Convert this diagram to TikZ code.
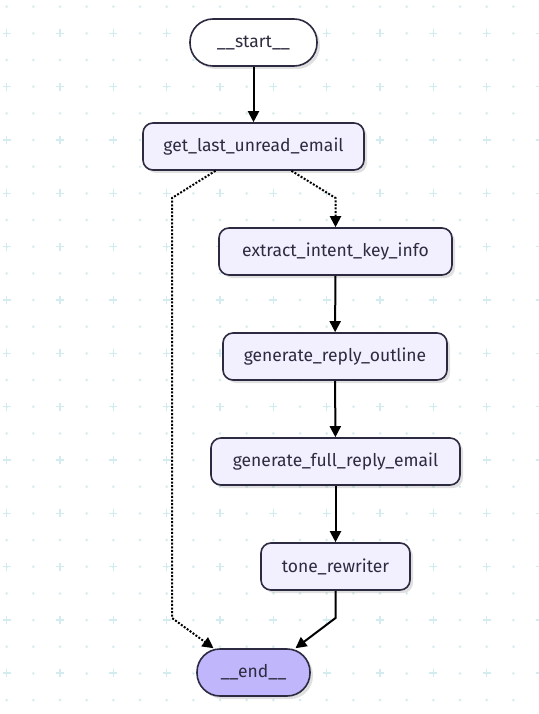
\documentclass[tikz,border=0pt]{standalone}
\usepackage{fontspec}
\setmainfont{Fira Sans}
\usetikzlibrary{arrows.meta,shadows,calc}
\definecolor{bd}{HTML}{2B2A40}
\definecolor{nodefill}{HTML}{F2F0FF}
\definecolor{endfill}{HTML}{BFB6FC}
\definecolor{txt}{HTML}{2D2B3F}
\definecolor{gridc}{HTML}{D3ECEF}
\tikzset{
  box/.style={draw=bd, line width=1.6pt, fill=nodefill, rounded corners=10pt,
    minimum height=47pt, inner sep=0pt, text=txt, font=\fontsize{17.5}{20}\selectfont,
    drop shadow={shadow xshift=3pt, shadow yshift=-3pt, opacity=0.12, fill=black}},
  pill/.style={box, rounded corners=23pt},
  edge/.style={line width=2pt, draw=black, -{Triangle[width=11pt,length=11pt]}},
  dotedge/.style={edge, dash pattern=on 2pt off 1.6pt}
}
\begin{document}
\begin{tikzpicture}[x=1pt,y=-1pt]
\useasboundingbox (0,0) rectangle (538,714);
\fill[white] (0,0) rectangle (538,714);
\foreach \i in {0,...,20}{
  \foreach \j in {0,...,26}{
    \fill[gridc] ({6.67+26.67*\i},{6.67+26.67*\j}) circle (1.4pt);
  }
}
\foreach \i in {0,...,10}{
  \foreach \j in {0,...,13}{
    \draw[gridc, line width=1.6pt] ({6.67+53.33*\i-4},{33.33+53.33*\j}) -- ++(8,0)
      ({6.67+53.33*\i},{33.33+53.33*\j-4}) -- ++(0,8);
  }
}
\node[pill, fill=white, minimum width=127pt] (start) at (253.5,42.5) {\_\_start\_\_};
\node[box, minimum width=221pt] (get) at (253.5,146.5) {get\_last\_unread\_email};
\node[box, minimum width=233pt] (extract) at (335.5,251.5) {extract\_intent\_key\_info};
\node[box, minimum width=224pt] (outline) at (335,356.5) {generate\_reply\_outline};
\node[box, minimum width=249pt] (full) at (335.5,461.5) {generate\_full\_reply\_email};
\node[box, minimum width=149pt] (tone) at (335.5,566.5) {tone\_rewriter};
\node[pill, fill=endfill, minimum width=113pt] (end) at (253.5,672.5) {\_\_end\_\_};

\coordinate (l1) at (172,198);
\coordinate (l2) at (172,618);
\coordinate (r1) at (335.5,198);
\coordinate (t1) at (335.5,618);

\draw[edge] (start) -- (get);
\draw[dotedge] ([xshift=-38pt]get.south) -- (l1) -- (l2) -- ([xshift=-40pt]end.north);
\draw[dotedge] ([xshift=38pt]get.south) -- (r1) -- (extract.north);
\draw[edge] (extract) -- (outline);
\draw[edge] (outline) -- (full);
\draw[edge] (full) -- (tone);
\draw[edge] (tone.south) -- (t1) -- ([xshift=42pt]end.north);
\end{tikzpicture}
\end{document}
